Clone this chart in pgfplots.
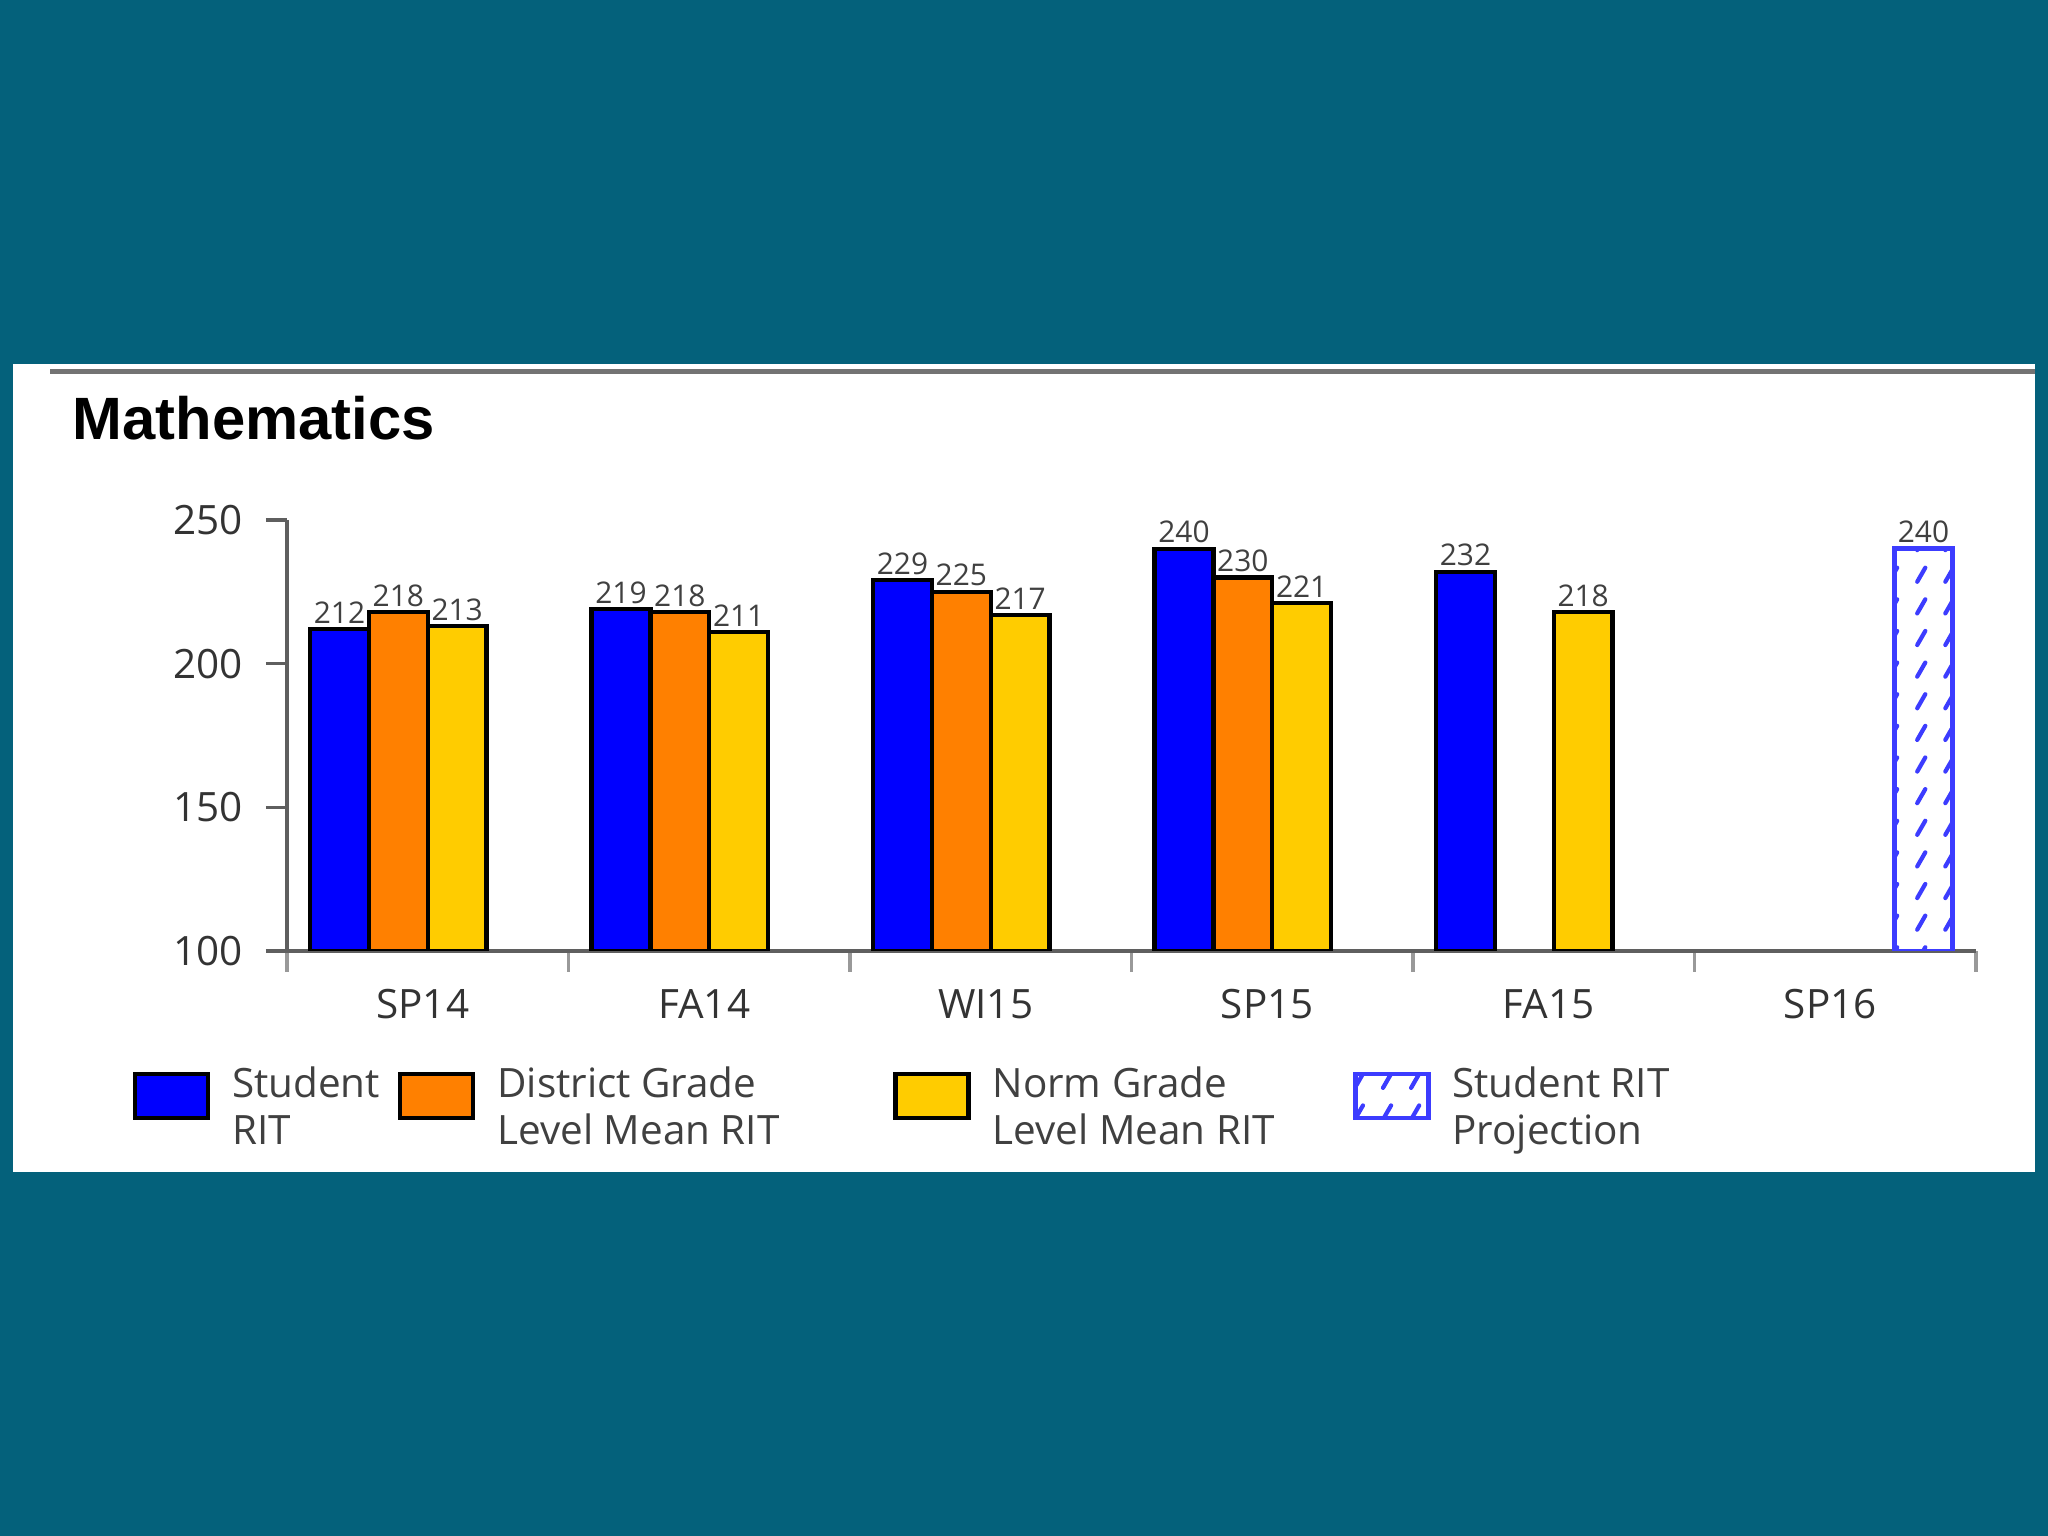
\documentclass[border=0pt]{standalone}
\usepackage{pgfplots}
\pgfplotsset{compat=1.18}
\usepackage{fontspec}
\setmainfont{Open Sans}
\newfontfamily\titlefont{Liberation Sans}
\usetikzlibrary{patterns}

\definecolor{bgteal}{RGB}{4,97,123}
\definecolor{rblue}{RGB}{0,0,255}
\definecolor{rorange}{RGB}{255,128,0}
\definecolor{ryellow}{RGB}{255,204,0}
\definecolor{projblue}{RGB}{60,60,255}
\definecolor{axgray}{RGB}{95,95,95}

% dashed diagonal hatching of the projection bar
\pgfdeclarepatternformonly{projdash}{\pgfqpoint{-1pt}{-1pt}}{\pgfqpoint{9pt}{11pt}}{\pgfqpoint{8pt}{9pt}}{%
  \pgfsetlinewidth{1.2pt}\pgfsetroundcap
  \pgfpathmoveto{\pgfqpoint{1.5pt}{1.5pt}}\pgfpathlineto{\pgfqpoint{3.8pt}{5.5pt}}\pgfusepath{stroke}}

\pgfplotsset{
  lgbox/.style={legend image code/.code={
      \draw[##1] (0cm,-0.22cm) rectangle (0.73cm,0.22cm);}},
}

\begin{document}
\begin{tikzpicture}
\fill[bgteal] (0,0) rectangle (20.48cm,15.36cm);
\fill[white] (0.13cm,3.64cm) rectangle (20.35cm,11.72cm);
\draw[black!55, line width=0.05cm] (0.50cm,11.64cm) -- (20.35cm,11.64cm);
\node[anchor=base west, inner sep=0pt, font=\titlefont\bfseries\fontsize{17}{20}\selectfont]
  at (0.72cm,10.96cm) {Mathematics};

\begin{axis}[
  at={(2.87cm,5.85cm)}, anchor=south west, scale only axis,
  width=16.89cm, height=4.31cm,
  xmin=-0.5, xmax=5.5, ymin=100, ymax=250,
  axis x line=bottom, axis y line=left,
  axis line style={-, axgray, line width=1.2pt},
  ytick={100,150,200,250},
  xtick={-0.5,0.5,...,5.5},
  xticklabels={SP14,FA14,WI15,SP15,FA15,SP16},
  x tick label as interval,
  tick align=outside,
  major tick length=0.21cm,
  xtick style={black!40, line width=1pt},
  ytick style={axgray, line width=1pt},
  tick label style={font=\fontsize{11.5}{14}\selectfont, text=black!80},
  yticklabel style={xshift=-0.11cm},
  xticklabel style={yshift=-0.05cm, xshift=-0.05cm},
  /pgf/number format/assume math mode=true,
  ybar, bar width=0.209,
  clip mode=individual,
  nodes near coords,
  nodes near coords style={font=\fontsize{8.5}{9}\selectfont, text=black!75, inner sep=1pt},
  legend columns=4,
  legend style={at={(axis description cs:-0.0912,-0.3364)}, anchor=west,
    draw=none, fill=none, inner sep=0pt, outer sep=0pt,
    font=\fontsize{11.5}{13.4}\selectfont, text=black!75,
    nodes={inner sep=0pt},
    /tikz/every odd column/.append style={column sep=0.22cm}},
]
\addplot[lgbox, bar shift=-0.3135, fill=rblue, draw=black, line width=1.2pt]
  coordinates {(0,212) (1,219) (2,229) (3,240) (4,232)};
\addlegendentry{\makebox[1.66cm][l]{\begin{tabular}{@{}l@{}}Student\\RIT\end{tabular}}}
\addplot[lgbox, bar shift=-0.1045, fill=rorange, draw=black, line width=1.2pt]
  coordinates {(0,218) (1,218) (2,225) (3,230)};
\addlegendentry{\makebox[3.96cm][l]{\begin{tabular}{@{}l@{}}District Grade\\Level Mean RIT\end{tabular}}}
\addplot[lgbox, bar shift=0.1045, fill=ryellow, draw=black, line width=1.2pt]
  coordinates {(0,213) (1,211) (2,217) (3,221) (4,218)};
\addlegendentry{\makebox[3.60cm][l]{\begin{tabular}{@{}l@{}}Norm Grade\\Level Mean RIT\end{tabular}}}
\addplot[lgbox, bar shift=0.3135, pattern=projdash, pattern color=projblue, draw=projblue, line width=1.4pt]
  coordinates {(5,240)};
\addlegendentry{\makebox[2.6cm][l]{\begin{tabular}{@{}l@{}}Student RIT\\Projection\end{tabular}}}
\end{axis}
\end{tikzpicture}
\end{document}
